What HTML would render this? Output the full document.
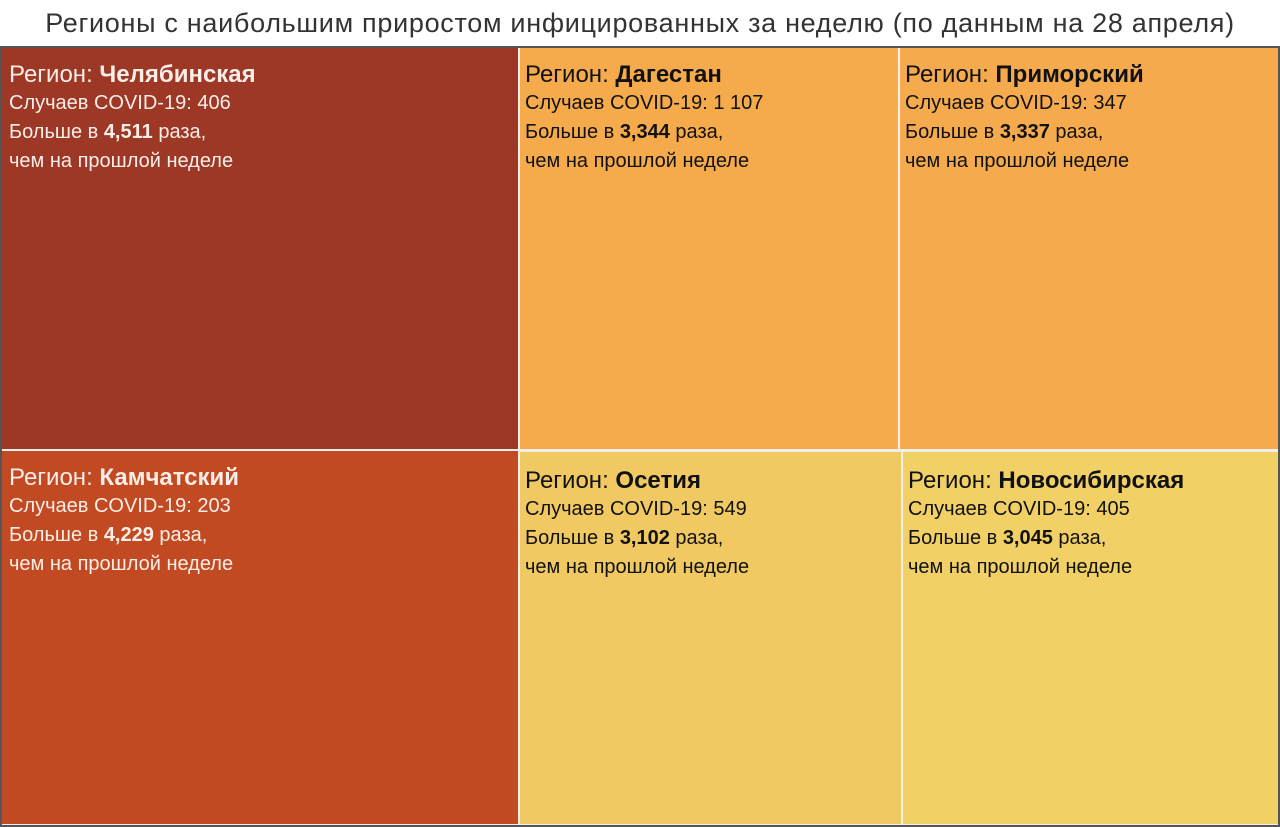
<!DOCTYPE html>
<html><head><meta charset="utf-8"><style>
body{margin:0;width:1280px;height:827px;background:#fff;position:relative;overflow:hidden;font-family:"Liberation Sans",sans-serif}
.t{position:absolute;top:8px;left:0;width:1280px;text-align:center;font-size:27px;color:#333;letter-spacing:0.7px}
.frame{position:absolute;left:0;top:46px;width:1276px;height:777px;border:2px solid #555;background:#f0f0e8}
.c{position:absolute;box-sizing:border-box;padding:12px 0 0 7px;color:#fff}
.c .r{font-size:24px;line-height:29px}
.c .l{font-size:20px;line-height:29px}
.d{color:#111}
b{font-weight:bold}
</style></head><body>
<div class="t">Регионы с наибольшим приростом инфицированных за неделю (по данным на 28 апреля)</div>
<div class="frame"></div>
<div class="c" style="left:2px;top:48px;width:516px;height:401px;background:#9c3825;color:#fbeee8">
<div class="r">Регион: <b>Челябинская</b></div><div class="l">Случаев COVID-19: 406<br>Больше в <b>4,511</b> раза,<br>чем на прошлой неделе</div></div>
<div class="c" style="left:2px;top:451px;width:516px;height:373px;background:#c24a22;color:#fbeee8">
<div class="r">Регион: <b>Камчатский</b></div><div class="l">Случаев COVID-19: 203<br>Больше в <b>4,229</b> раза,<br>чем на прошлой неделе</div></div>
<div class="c d" style="left:520px;top:48px;width:378px;height:401px;background:#f5aa4c;padding-left:5px">
<div class="r">Регион: <b>Дагестан</b></div><div class="l">Случаев COVID-19: 1 107<br>Больше в <b>3,344</b> раза,<br>чем на прошлой неделе</div></div>
<div class="c d" style="left:900px;top:48px;width:378px;height:401px;background:#f5ab4d;padding-left:5px">
<div class="r">Регион: <b>Приморский</b></div><div class="l">Случаев COVID-19: 347<br>Больше в <b>3,337</b> раза,<br>чем на прошлой неделе</div></div>
<div class="c d" style="left:520px;top:452px;width:381px;height:372px;background:#f1c962;padding-left:5px;padding-top:14px">
<div class="r">Регион: <b>Осетия</b></div><div class="l">Случаев COVID-19: 549<br>Больше в <b>3,102</b> раза,<br>чем на прошлой неделе</div></div>
<div class="c d" style="left:903px;top:452px;width:375px;height:372px;background:#f1d066;padding-left:5px;padding-top:14px">
<div class="r">Регион: <b>Новосибирская</b></div><div class="l">Случаев COVID-19: 405<br>Больше в <b>3,045</b> раза,<br>чем на прошлой неделе</div></div>
</body></html>
